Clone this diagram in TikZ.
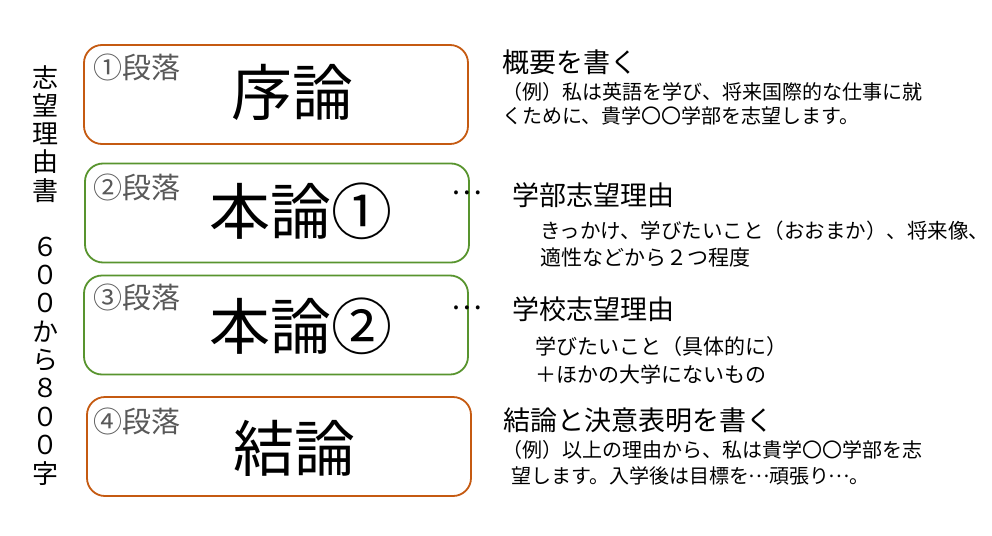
\documentclass[tikz,border=0pt]{standalone}
\usepackage{fontspec}
\setmainfont{Noto Sans CJK JP}
\newcommand{\jell}{\makebox[1em]{\raisebox{0.33em}{…}}}
\definecolor{boxorange}{RGB}{197,90,17}
\definecolor{boxgreen}{RGB}{88,148,46}
\definecolor{labelgray}{RGB}{89,89,89}
\begin{document}
\begin{tikzpicture}[x=1pt,y=-1pt,
  box/.style={draw, line width=1.8pt, rounded corners=18pt, minimum width=384pt, minimum height=99pt, inner sep=0},
  lbl/.style={text=labelgray, font=\fontsize{29}{31}\selectfont, inner sep=0, anchor=west},
  big/.style={font=\fontsize{61}{64}\selectfont, inner sep=0},
  head/.style={font=\fontsize{27}{30}\selectfont, inner sep=0, anchor=west},
  body/.style={font=\fontsize{20}{23}\selectfont, inner sep=0, anchor=west},
  bodymid/.style={font=\fontsize{21}{24}\selectfont, inner sep=0, anchor=west},
  vchar/.style={font=\fontsize{26}{28}\selectfont, inner sep=0},
  dots/.style={font=\fontsize{29}{30}\selectfont, inner sep=0}
  ]
\useasboundingbox (0,0) rectangle (992,535);
\fill[white] (0,0) rectangle (992,535);

% vertical title
\foreach \c [count=\i from 0] in {志,望,理,由,書,{},６,０,０,か,ら,８,０,０,字}
  \node[vchar] (v\i) at (45,{77+\i*28.3}) {\c};

% boxes
\node[box, draw=boxorange] (b1) at (276,94.5) {};
\node[box, draw=boxgreen]  (b2) at (277,213) {};
\node[box, draw=boxgreen]  (b3) at (276,325) {};
\node[box, draw=boxorange] (b4) at (279,446.5) {};

% paragraph labels
\node[lbl] (l1) at (93,67)    {①段落};
\node[lbl] (l2) at (93,187)   {②段落};
\node[lbl] (l3) at (93,297.5) {③段落};
\node[lbl] (l4) at (93,421.5) {④段落};

% big titles
\node[big] (t1) at (292,92)  {序論};
\node[big] (t2) at (301,211) {本論①};
\node[big] (t3) at (301,326) {本論②};
\node[big] (t4) at (294,448) {結論};

% dots
\node[dots] (d2) at (466.5,193) {…};
\node[dots] (d3) at (466.5,308) {…};

% right texts
\node[head] (h1) at (502,62)  {概要を書く};
\node[body] (s1a) at (502,92)  {（例）私は英語を学び、将来国際的な仕事に就};
\node[body] (s1b) at (502,116) {くために、貴学〇〇学部を志望します。};

\node[head] (h2) at (512,195) {学部志望理由};
\node[bodymid, font=\fontsize{20.5}{24}\selectfont] (s2a) at (540,231) {きっかけ、学びたいこと（おおまか）、将来像\makebox[0.45em][l]{、}};
\node[bodymid] (s2b) at (540,258) {適性などから２つ程度};

\node[head] (h3) at (512,309) {学校志望理由};
\node[bodymid] (s3a) at (535,347) {学びたいこと（具体的に）};
\node[bodymid] (s3b) at (535,374) {＋ほかの大学にないもの};

\node[head] (h4) at (503,420) {結論と決意表明を書く};
\node[body] (s4a) at (502,450) {（例）以上の理由から、私は貴学〇〇学部を志};
\node[body] (s4b) at (511,476) {望します。入学後は目標を\jell 頑張り\jell 。};
\end{tikzpicture}
\end{document}
